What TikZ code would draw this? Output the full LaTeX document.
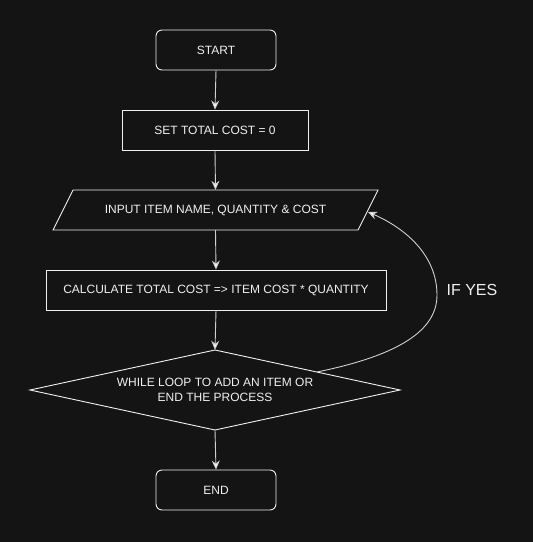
\documentclass[tikz,border=0pt]{standalone}
\usepackage{fontspec}
\setmainfont{Liberation Sans}
\usetikzlibrary{arrows.meta}
\definecolor{bg}{HTML}{141414}
\definecolor{fg}{HTML}{F0F0F0}
\definecolor{ln}{HTML}{D0D0D0}
\tikzset{
  box/.style={draw=fg, line width=0.9pt, minimum height=40pt, inner sep=0pt, text=fg, font=\fontsize{12}{14}\selectfont},
  term/.style={box, rounded corners=6pt, minimum width=120pt},
  lbl/.style={text=fg, font=\fontsize{12}{14.5}\selectfont, align=center, inner sep=0pt},
  flow/.style={draw=ln, line width=0.9pt, -{Stealth[length=9pt,width=8pt,inset=3pt,fill=white]}},
}
\begin{document}
\begin{tikzpicture}[x=1pt,y=-1pt]
\fill[bg] (0,0) rectangle (533,542);
\useasboundingbox (0,0) rectangle (533,542);
\node[term] (start) at (216,50) {START};
\node[box, minimum width=186pt] (set) at (215,130) {SET TOTAL COST = 0};
\draw[draw=fg, line width=0.9pt] (73,190) -- (378,190) -- (358,230) -- (53,230) -- cycle;
\node[lbl, minimum width=305pt, minimum height=40pt] (input) at (215.5,210) {INPUT ITEM NAME, QUANTITY \& COST};
\node[box, minimum width=340pt] (calc) at (216,290) {CALCULATE TOTAL COST => ITEM COST * QUANTITY};
\draw[draw=fg, line width=0.9pt] (215,350) -- (400,390) -- (215,430) -- (30,390) -- cycle;
\node[lbl, minimum height=80pt] (loop) at (215,390) {WHILE LOOP TO ADD AN ITEM OR\\END THE PROCESS};
\node[term] (end) at (216,490) {END};
\node[text=fg, font=\fontsize{16}{18}\selectfont, inner sep=0pt] (yes) at (472,290) {IF YES};
\coordinate (cs) at (317,372);
\coordinate (ce) at (368,212);
\draw[flow] (start.south) -- (set.north);
\draw[flow] (set.south) -- (input.north);
\draw[flow] (input.south) -- (calc.north);
\draw[flow] (calc.south) -- (loop.north);
\draw[flow] (loop.south) -- (end.north);
\draw[flow] (cs) .. controls (400,355) and (437,330) .. (437,295) .. controls (437,255) and (405,228) .. (ce);
\end{tikzpicture}
\end{document}
